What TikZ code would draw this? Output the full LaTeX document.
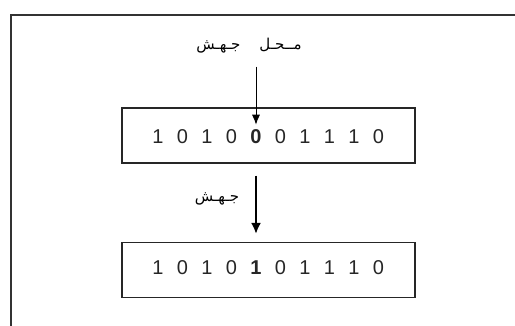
\documentclass[tikz,border=0pt]{standalone}
\usepackage{fontspec}
\usepackage{xcolor}
\usetikzlibrary{arrows.meta}
\setmainfont{Liberation Sans}
\newfontfamily\arabicfont[Script=Arabic]{DejaVu Sans}
\TeXXeTstate=1

\tikzset{
    frameline/.style={line width=2.6pt, draw=black!80},
    register/.style={draw=black!85, line width=1.1pt, minimum width=293pt, minimum height=55pt, inner sep=0pt},
    bit/.style={font=\fontsize{20}{20}\selectfont, text=black!85, inner sep=1pt},
    arlabel/.style={font=\arabicfont\fontsize{15}{15}\selectfont, inner sep=1pt},
    pointer/.style={-{Latex[length=10pt,width=8pt]}, line width=0.9pt},
    mutarrow/.style={-{Latex[length=11pt,width=10pt]}, line width=2.6pt}
}

\begin{document}
\begin{tikzpicture}[x=1pt,y=-1pt]
    \useasboundingbox (0,0) rectangle (515,326);

    % outer frame, only two sides show
    \draw[frameline] (11,330) -- (11,15) -- (520,15);

    \node[register] (before) at (268.5,135.5) {};
    \node[register] (after) at (268.5,270) {};

    \foreach \v [count=\i] in {1,0,1,0,0,0,1,1,1,0}
        \node[bit] (b\i) at ({133.5+24.5*\i},137) {\ifnum\i=5 \bfseries\fi\v};
    \foreach \v [count=\i] in {1,0,1,0,1,0,1,1,1,0}
        \node[bit] (a\i) at ({133.5+24.5*\i},268) {\ifnum\i=5 \bfseries\fi\v};

    \node[arlabel] (site) at (249,46) {\beginR مــحـل \ \ \ جـهـش\endR};
    \node[arlabel] (mut) at (217,199) {\beginR جـهـش\endR};

    \draw[pointer, shorten <=12pt, shorten >=4pt] (b5.north |- site.south) -- (b5.north);
    \draw[mutarrow, shorten <=12pt, shorten >=8pt] (b5.north |- before.south) -- (b5.north |- after.north);
\end{tikzpicture}
\end{document}
